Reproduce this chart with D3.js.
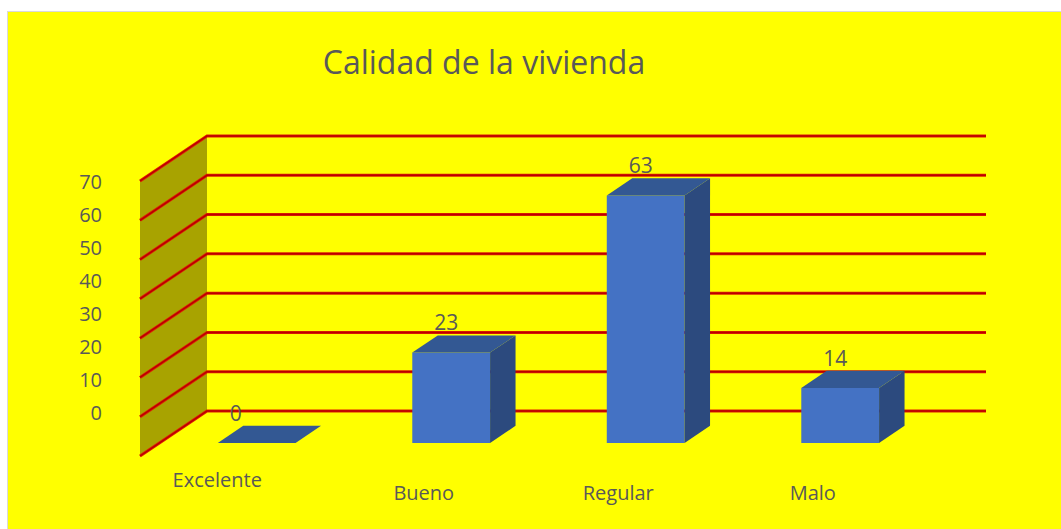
<!DOCTYPE html>
<html>
<head>
<meta charset="utf-8">
<script src="https://cdn.jsdelivr.net/npm/d3@7"></script>
<style>
  body { margin: 0; background: #fff; }
  text { font-family: "Open Sans", "Noto Sans", sans-serif; fill: #595959; }
</style>
</head>
<body>
<div id="chart"></div>
<script>
// data
var categories = ["Excelente", "Bueno", "Regular", "Malo"];
var values = [0, 23, 63, 14];
var tickValues = [0, 10, 20, 30, 40, 50, 60, 70];

var width = 1061, height = 529;

// 3d depth of the plot box (back wall offset)
var depthX = 67, depthY = -45;
// bars sit between these fractions of the depth
var barD0 = 0.29, barD1 = 0.67;

var svg = d3.select("#chart").append("svg")
  .attr("width", width)
  .attr("height", height);

// yellow chart area
svg.append("rect")
  .attr("x", 7.5).attr("y", 11.5)
  .attr("width", width - 7).attr("height", height - 11)
  .style("fill", "#ffff00")
  .style("stroke", "#d9d9d9");

// title
svg.append("text")
  .attr("x", 484)
  .attr("y", 74)
  .attr("text-anchor", "middle")
  .style("font-size", "32px")
  .text("Calidad de la vivienda");

// scales (front plane)
var x = d3.scaleBand()
  .domain(categories)
  .range([140, 918])
  .padding(0);

var y = d3.scaleLinear()
  .domain([0, 70])
  .range([456, 181]);

// tick labels are drawn on their own scale, like the original
var yLabel = d3.scaleLinear()
  .domain([0, 70])
  .range([413, 182]);

function pt(px, py, d) {
  return [px + depthX * d, py + depthY * d];
}
function poly(pts) {
  return pts.map(function(p) { return p.join(","); }).join(" ");
}

// left side wall
svg.append("polygon")
  .attr("points", poly([
    pt(140, y(70), 0), pt(140, y(70), 1),
    pt(140, y(0), 1), pt(140, y(0), 0)
  ]))
  .style("fill", "#a8a300");

// gridlines: along the side wall then across the back wall
var grid = svg.append("g").attr("class", "grid");
tickValues.forEach(function(v) {
  var a = pt(140, y(v), 0), b = pt(140, y(v), 1);
  grid.append("polyline")
    .attr("points", poly([a, b, [986, b[1]]]))
    .style("fill", "none")
    .style("stroke", "#e02000")
    .style("stroke-width", 3);
  grid.append("polyline")
    .attr("points", poly([a, b, [986, b[1]]]))
    .style("fill", "none")
    .style("stroke", "#b80000")
    .style("stroke-width", 1.5);
});

// y axis labels
var yAxis = d3.axisLeft(yLabel)
  .tickValues(tickValues)
  .tickSize(0)
  .tickPadding(0);

var gy = svg.append("g")
  .attr("transform", "translate(102,0)")
  .call(yAxis);
gy.select(".domain").remove();
gy.selectAll("text")
  .style("font-size", "20px")
  .style("font-family", "'Open Sans', sans-serif")
  .attr("fill", "#595959");

// bars
var barW = x.bandwidth() * 0.4;
var bars = svg.append("g").selectAll(".bar")
  .data(categories.map(function(c, i) { return { name: c, value: values[i] }; }))
  .enter().append("g")
  .attr("class", "bar");

function barGeom(d) {
  var x0 = x(d.name) + x.bandwidth() / 2 - barW / 2;
  var x1 = x0 + barW;
  var yb = y(0), yt = y(d.value);
  return { x0: x0, x1: x1, yb: yb, yt: yt };
}

// front face
bars.append("polygon")
  .attr("points", function(d) {
    var g = barGeom(d);
    return poly([pt(g.x0, g.yt, barD0), pt(g.x1, g.yt, barD0), pt(g.x1, g.yb, barD0), pt(g.x0, g.yb, barD0)]);
  })
  .style("fill", "#4472c4");

// side face
bars.append("polygon")
  .attr("points", function(d) {
    var g = barGeom(d);
    return poly([pt(g.x1, g.yt, barD0), pt(g.x1, g.yt, barD1), pt(g.x1, g.yb, barD1), pt(g.x1, g.yb, barD0)]);
  })
  .style("fill", "#2c4a7e");

// top face
bars.append("polygon")
  .attr("points", function(d) {
    var g = barGeom(d);
    return poly([pt(g.x0, g.yt, barD0), pt(g.x0, g.yt, barD1), pt(g.x1, g.yt, barD1), pt(g.x1, g.yt, barD0)]);
  })
  .style("fill", "#335893");

// value labels
bars.append("text")
  .attr("x", function(d) {
    var g = barGeom(d);
    var cx = pt((g.x0 + g.x1) / 2, 0, barD0)[0] - 5;
    return d.value === 0 ? cx - 16 : cx;
  })
  .attr("y", function(d) {
    var g = barGeom(d);
    return pt(0, g.yt, barD1)[1] - 5;
  })
  .attr("text-anchor", "middle")
  .style("font-size", "21px")
  .text(function(d) { return d.value; });

// category labels (first one sits higher and further left in the original)
svg.append("g").selectAll(".cat")
  .data(categories)
  .enter().append("text")
  .attr("class", "cat")
  .attr("x", function(d, i) { return x(d) + x.bandwidth() / 2 - (i === 0 ? 20 : 8); })
  .attr("y", function(d, i) { return i === 0 ? 487 : 500; })
  .attr("text-anchor", "middle")
  .style("font-size", "20px")
  .text(function(d) { return d; });
</script>
</body>
</html>
